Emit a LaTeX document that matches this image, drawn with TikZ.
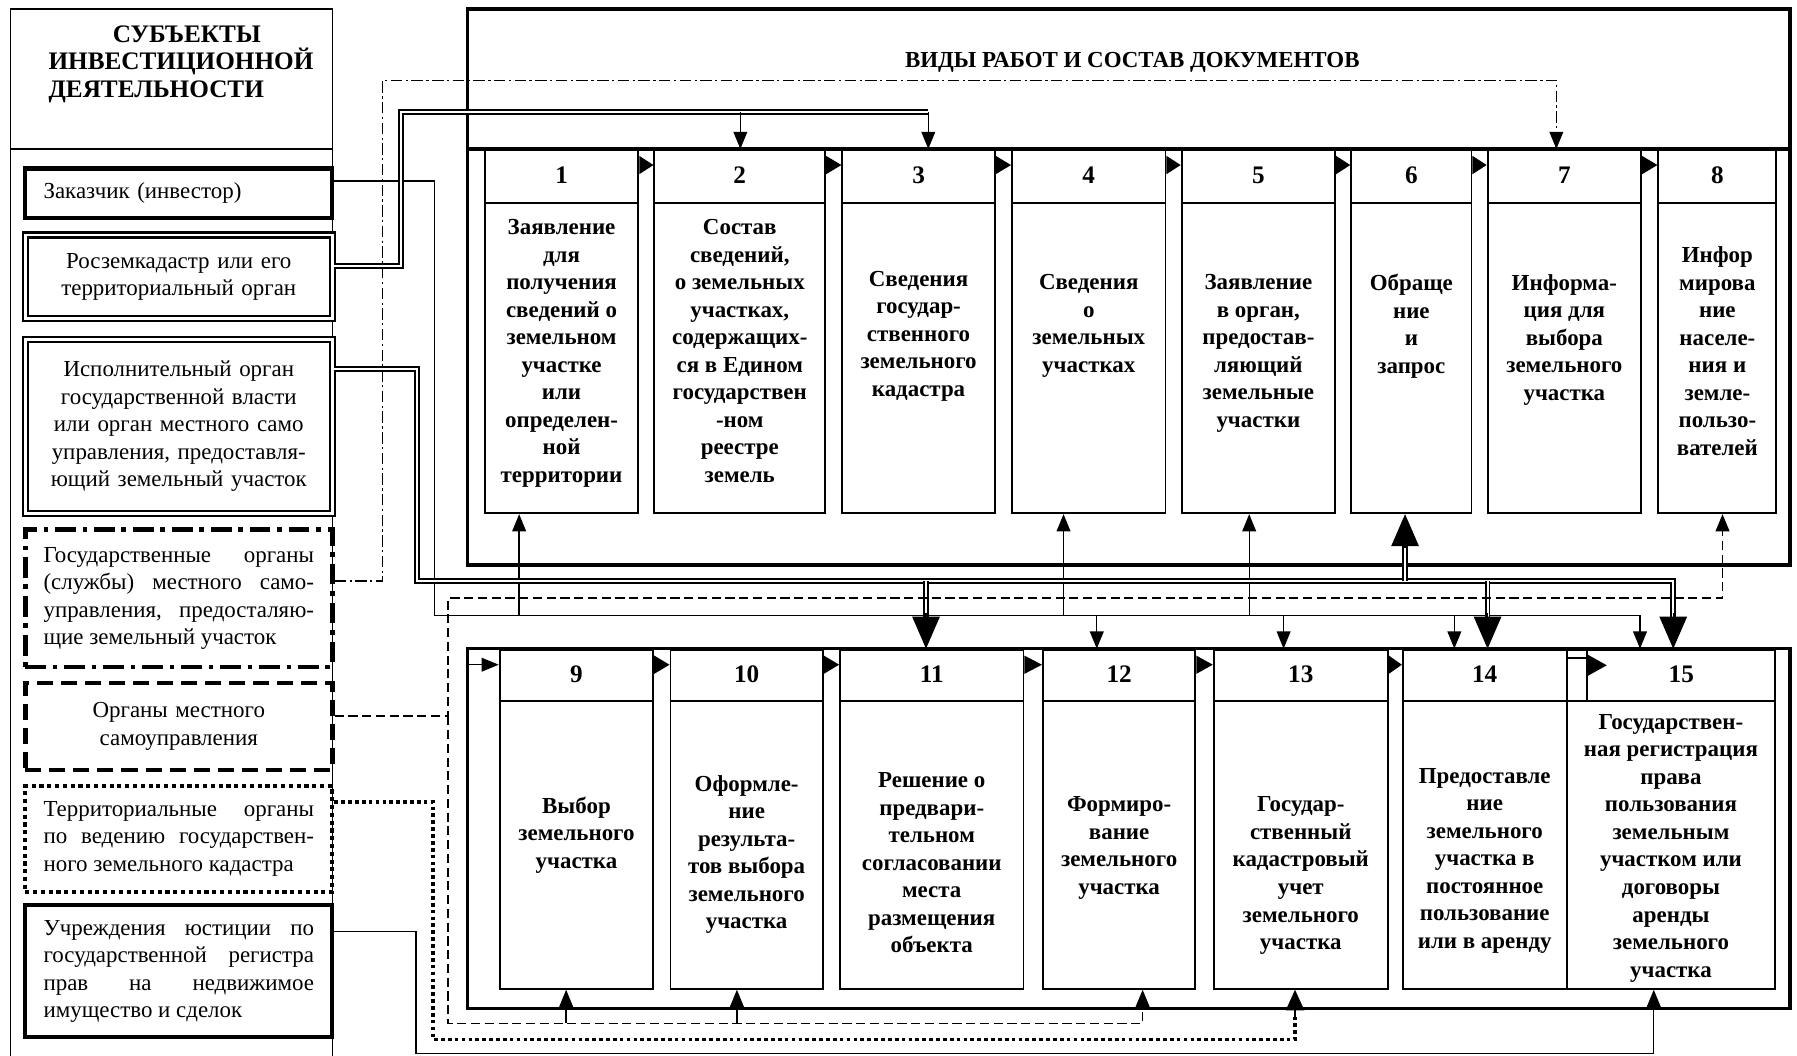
\documentclass[tikz,border=0pt]{standalone}
\usepackage{fontspec}
\setmainfont{Liberation Serif}
\usetikzlibrary{arrows.meta}
\hyphenpenalty=10000
\exhyphenpenalty=10000

\tikzset{
  blk/.style={draw, line width=0.8pt, inner sep=0pt, anchor=north},
  num/.style={font=\fontsize{11}{12}\selectfont\bfseries},
  txt/.style={font=\fontsize{10}{12}\selectfont\bfseries, align=center, anchor=north, inner sep=0pt},
  subj/.style={minimum width=134pt, text width=118pt, inner xsep=8pt, inner ysep=0pt, align=center},
  dblbox/.style={draw, double, double distance=1.2pt, line width=1pt},
  frm/.style={line width=1.5pt},
  ln/.style={line width=0.6pt},
  dbl/.style={double, double distance=0.9pt, line width=0.8pt},
  ddash/.style={line width=0.6pt, dash pattern=on 5pt off 1.5pt on 1pt off 1.5pt},
  dsh/.style={line width=0.7pt, dash pattern=on 4pt off 2pt},
  dts/.style={line width=1.6pt, dash pattern=on 1.6pt off 1.4pt},
  arr/.style={-{Triangle[length=7.5pt,width=6pt]}},
  bigarr/.style={-{Triangle[length=14pt,width=12pt]}},
  midarr/.style={-{Triangle[length=9pt,width=8pt]}},
}

\begin{document}
\begin{tikzpicture}[x=0.5pt, y=-0.5pt, every node/.style={font=\fontsize{10}{12}\selectfont}]
\useasboundingbox (0,0) rectangle (1568,921);

% subjects column
\draw[ln] (9,925) -- (9,8) -- (290,8) -- (290,925);
\draw[ln] (9,130) -- (290,130);
\node[font=\fontsize{11}{12}\selectfont\bfseries, align=left, anchor=north west, inner sep=0pt] (hdr) at (42,22) {\hspace*{28pt}СУБЪЕКТЫ\\ИНВЕСТИЦИОННОЙ\\ДЕЯТЕЛЬНОСТИ};

\node[subj, draw, line width=1.8pt, align=left, minimum height=21.5pt] (s1) at (156,168.5) {Заказчик (инвестор)};
\node[subj, dblbox, minimum height=36.5pt] (s2) at (156,241.5) {Росземкадастр или его\\территориальный орган};
\node[subj, dblbox, minimum height=76pt] (s3) at (156,372) {Исполнительный орган\\государственной власти\\или орган местного само\\управления, предоставля-\\ющий земельный участок};
\node[subj, draw, line width=2pt, dash pattern=on 9pt off 3pt on 2pt off 3pt, align=justify, minimum height=60pt] (s4) at (156,522) {Государственные органы\linebreak (службы) местного само-\linebreak управления, предосталяю-\linebreak щие земельный участок};
\node[subj, draw, line width=2pt, dash pattern=on 7pt off 3.5pt, minimum height=38pt] (s5) at (156,634) {Органы местного\\самоуправления};
\node[subj, draw, line width=1.8pt, dash pattern=on 1.8pt off 1.6pt, align=justify, minimum height=46pt] (s6) at (156,732) {Территориальные органы\linebreak по ведению государствен-\linebreak ного земельного кадастра};
\node[subj, draw, line width=1.8pt, align=justify, minimum height=57.5pt] (s7) at (156,847.5) {Учреждения юстиции по\linebreak государственной регистра\linebreak прав на недвижимое\linebreak имущество и сделок};

% frames
\draw[frm] (408,8) rectangle (1562,493);
\draw[frm] (408,130) -- (1562,130);
\draw[frm] (408,566) rectangle (1562,880);
\node[font=\fontsize{10}{12}\selectfont\bfseries] (title) at (988,54) {ВИДЫ РАБОТ И СОСТАВ ДОКУМЕНТОВ};

% top row of blocks
\foreach \n/\l/\r in {1/423/557, 2/571/720, 3/735/868, 4/883/1017, 5/1031/1165, 6/1179/1284, 7/1298/1432, 8/1447/1550} {
\node[blk, minimum width={(\r-\l)*0.5pt}, minimum height=158.5pt] (b\n) at ({(\l+\r)/2},130) {};
\draw[line width=0.8pt] (b\n.west |- 0,177) -- (b\n.east |- 0,177);
\node[num] (n\n) at (b\n.north |- 0,153) {\n};
}

% bottom row of blocks
\foreach \n/\l/\r in {9/436/570, 10/585/718, 11/733/893, 12/910/1043, 13/1059/1211, 14/1224/1367, 15/1367/1549} {
\node[blk, minimum width={(\r-\l)*0.5pt}, minimum height=148pt] (b\n) at ({(\l+\r)/2},566) {};
\draw[line width=0.8pt] (b\n.west |- 0,612) -- (b\n.east |- 0,612);
}
\foreach \n in {9,...,14} {
\node[num] (n\n) at (b\n.north |- 0,588) {\n};
}
\node[num] (n15) at (1467,588) {15};

% small flags between blocks
\foreach \a/\b in {1/2, 2/3, 3/4, 4/5, 5/6, 6/7, 7/8, 9/10, 10/11, 11/12, 12/13, 13/14} {
\fill ([yshift=-3pt]b\a.north east) -- ([yshift=-11pt]b\a.north east) -- ([yshift=-7pt]b\b.north west) -- cycle;
}
\draw[line width=0.8pt] (1385,566) -- (1385,612);
\draw[line width=0.8pt] (b14.north east |- 0,574) -- (1385,574);
\fill (1385,571) -- (1385,590) -- (1402,580.5) -- cycle;
\draw[ln, arr] (408,580) -- (b9.west |- 0,580);

% block texts
\node[txt] (t1) at (b1.north |- 0,191) {Заявление\\для\\получения\\сведений о\\земельном\\участке\\или\\определен-\\ной\\территории};
\node[txt] (t2) at (b2.north |- 0,191) {Состав\\сведений,\\о земельных\\участках,\\содержащих-\\ся в Едином\\государствен\\-ном\\реестре\\земель};
\node[txt] (t3) at (b3.north |- 0,236) {Сведения\\государ-\\ственного\\земельного\\кадастра};
\node[txt] (t4) at (b4.north |- 0,239) {Сведения\\о\\земельных\\участках};
\node[txt] (t5) at (b5.north |- 0,239) {Заявление\\в орган,\\предостав-\\ляющий\\земельные\\участки};
\node[txt] (t6) at (b6.north |- 0,239) {Обраще\\ние\\и\\запрос};
\node[txt] (t7) at (b7.north |- 0,239) {Информа-\\ция для\\выбора\\земельного\\участка};
\node[txt] (t8) at (b8.north |- 0,215) {Инфор\\мирова\\ние\\населе-\\ния и\\земле-\\пользо-\\вателей};

\node[txt] (t9) at (b9.north |- 0,695) {Выбор\\земельного\\участка};
\node[txt] (t10) at (b10.north |- 0,676) {Оформле-\\ние\\результа-\\тов выбора\\земельного\\участка};
\node[txt] (t11) at (b11.north |- 0,674) {Решение о\\предвари-\\тельном\\согласовании\\места\\размещения\\объекта};
\node[txt] (t12) at (b12.north |- 0,695) {Формиро-\\вание\\земельного\\участка};
\node[txt] (t13) at (b13.north |- 0,695) {Государ-\\ственный\\кадастровый\\учет\\земельного\\участка};
\node[txt] (t14) at (b14.north |- 0,670) {Предоставле\\ние\\земельного\\участка в\\постоянное\\пользование\\или в аренду};
\node[txt] (t15) at (b15.north |- 0,623) {Государствен-\\ная регистрация\\права\\пользования\\земельным\\участком или\\договоры\\аренды\\земельного\\участка};

% customer: thin line
\draw[ln, arr] (s1.east |- 0,158) -| (379,537) -| (b15.north -| 1431,0);
\foreach \x/\b in {453/1, 928/4, 1090/5} {
\draw[ln, arr] (\x,537) -- (b\b.south -| \x,0);
}
\foreach \x/\b in {957/12, 1120/13, 1269/14} {
\draw[ln, arr] (\x,537) -- (b\b.north -| \x,0);
}

% land cadastre: double line
\draw[dbl] (s2.east |- 0,232) -| (350,98) -- (810,98);
\draw[ln, arr] (810,98) -- (b3.north -| 810,0);
\draw[ln, arr] (646,98) -- (b2.north -| 646,0);

% executive body: double bus
\draw[dbl] (s3.east |- 0,322) -| (364,507) -- (1460,507) -- (1460,540);
\draw[dbl] (808,507) -- (808,540);
\draw[dbl] (1298,507) -- (1298,540);
\draw[dbl] (1226,507) -- (1226,474);
\draw[ln, bigarr] (808,535) -- (b11.north -| 808,0);
\draw[ln, bigarr] (1298,535) -- (b14.north -| 1298,0);
\draw[ln, bigarr] (1460,535) -- (b15.north -| 1460,0);
\draw[ln, bigarr] (1226,478) -- (b6.south -| 1226,0);

% state bodies: dash-dot
\draw[ddash, arr] (s4.east |- 0,507) -| (334,70) -| (b7.north -| 1358,0);

% local government: dashed
\draw[dsh, arr] (s5.east |- 0,625) -| (391,522) -| (b8.south -| 1503,0);
\draw[dsh, arr] (391,625) |- (997,893) -- (b12.south -| 997,0);
\foreach \x/\b in {494/9, 643/10} {
\draw[ln, arr] (\x,893) -- (b\b.south -| \x,0);
}

% territorial bodies: dotted
\draw[dts] (s6.east |- 0,700) -| (378,907) -| (1130,885);
\draw[ln, midarr] (1130,888) -- (b13.south -| 1130,0);

% justice: thin line
\draw[ln, arr] (s7.east |- 0,813) -| (363,919) -| (b15.south -| 1443,0);

\end{tikzpicture}
\end{document}
